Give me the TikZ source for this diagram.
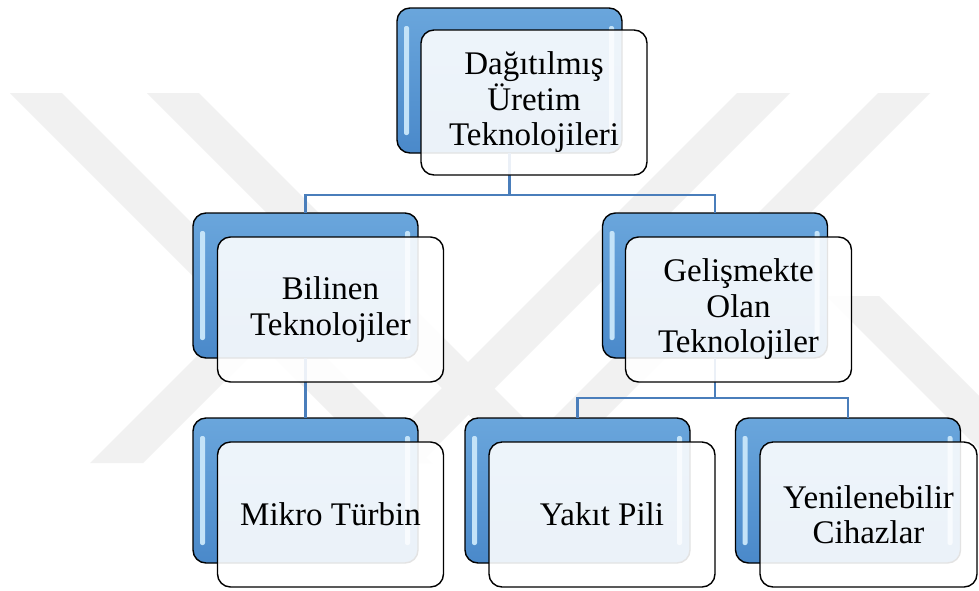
\documentclass[tikz,border=0pt]{standalone}
\usepackage{fontspec}
\setmainfont{Liberation Serif}
\definecolor{bluetop}{HTML}{6AA6DC}
\definecolor{bluebot}{HTML}{4A89CA}
\definecolor{stripe}{HTML}{C4E3F8}
\definecolor{connblue}{HTML}{4A7EBB}
\begin{document}
\begin{tikzpicture}[x=1pt,y=-1pt,
  back/.style={rectangle, rounded corners=13pt, draw=black, line width=1.4pt,
    minimum width=225pt, minimum height=145pt, inner sep=0pt, outer sep=0pt,
    top color=bluetop, bottom color=bluebot},
  front/.style={rectangle, rounded corners=13pt, draw=black, line width=1.4pt,
    minimum width=226pt, minimum height=145pt, inner sep=0pt, outer sep=0pt,
    fill=white, fill opacity=0.89, text opacity=1, align=center,
    font=\fontsize{33}{35.5}\selectfont},
  conn/.style={draw=connblue, line width=2.3pt},
  wm/.style={fill=black!5.5, draw=none},
  hl/.style={fill=stripe, rounded corners=2pt}]
\useasboundingbox (0,0) rectangle (979,590);
\fill[white] (0,0) rectangle (979,590);
% watermark
\begin{scope}
\clip (0,0) rectangle (979,590);
\fill[wm] (10,93)--(62,93)--(432,463)--(380,463)--cycle;
\fill[wm] (147,93)--(199,93)--(569,463)--(517,463)--cycle;
\fill[wm] (737,93)--(790,93)--(420,463)--(367,463)--cycle;
\fill[wm] (878,93)--(930,93)--(560,463)--(508,463)--cycle;
\fill[wm] (90,463)--(143,463)--(310,296)--(257,296)--cycle;
\fill[wm] (826,296)--(879,296)--(1046,463)--(993,463)--cycle;
\end{scope}
% back boxes
\node[back] (b1) at (509.5,80.5) {};
\node[back] (b2) at (305.5,285.5) {};
\node[back] (b3) at (715,285.5) {};
\node[back] (b4) at (305.5,490.5) {};
\node[back] (b5) at (577.5,490.5) {};
\node[back] (b6) at (848,490.5) {};
% connectors
\draw[conn] (b1.south) -- ++(0,42) coordinate (j1) -| (b2.north);
\draw[conn] (j1) -| (b3.north);
\draw[conn] (b2.south) -- (b4.north);
\draw[conn] (b3.south) -- ++(0,40) coordinate (j2) -| (b5.north);
\draw[conn] (j2) -| (b6.north);
% highlights
\foreach \b in {b1,b2,b3,b4,b5,b6}{
  \fill[hl] ([xshift=7pt,yshift=-18pt]\b.north west) rectangle ([xshift=12pt,yshift=18pt]\b.south west);
  \fill[hl] ([xshift=-13pt,yshift=-18pt]\b.north east) rectangle ([xshift=-8pt,yshift=18pt]\b.south east);
}
% front boxes
\node[front] (f1) at (534,102.5) {Dağıtılmış\\Üretim\\Teknolojileri};
\node[front] (f2) at (330.5,309.5) {Bilinen\\Teknolojiler};
\node[front] (f3) at (738.5,309.5) {Gelişmekte\\Olan\\Teknolojiler};
\node[front] (f4) at (330.5,514.5) {Mikro Türbin};
\node[front] (f5) at (602,514.5) {Yakıt Pili};
\node[front, minimum width=217pt] (f6) at (868.5,514.5) {Yenilenebilir\\Cihazlar};
\end{tikzpicture}
\end{document}
